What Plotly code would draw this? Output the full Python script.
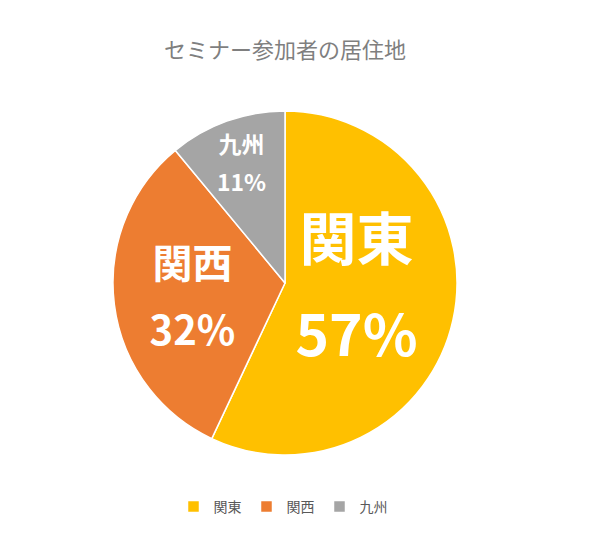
import plotly.graph_objects as go

# seminar attendees by region
regions = ['関東', '関西', '九州']
shares = [57, 32, 11]
slice_colours = ['#FFC000', '#ED7D31', '#A5A5A5']
label_sizes = [57, 40, 24]

FONT = 'Noto Sans CJK JP'
W, H = 609, 552
OFF = 8  # page body margin shifts the figure


def px_x(x):
    return (x - OFF) / W


def px_y(y):
    return 1 - (y - OFF) / H


# base font sets the line spacing, the span sets the glyph size,
# so label and percent sit further apart than a plain <br> would give
templates = ['<span style="font-size:' + str(s) + 'px"><b>%{label}</b></span><br>'
             '<span style="font-size:' + str(s) + 'px"><b>%{percent}</b></span>'
             for s in label_sizes]
spacing_sizes = [round(s * 1.3) for s in label_sizes]

fig = go.Figure(
    go.Pie(
        labels=regions,
        values=shares,
        sort=False,
        direction='clockwise',
        rotation=0,
        marker={'colors': slice_colours, 'line': {'color': 'white', 'width': 1.5}},
        texttemplate=templates,
        textposition='inside',
        insidetextorientation='horizontal',
        textfont={'family': FONT, 'color': 'white', 'size': spacing_sizes},
        hoverinfo='label+percent',
        domain={'x': [px_x(113), px_x(457)], 'y': [px_y(455), px_y(111)]},
    )
)

fig.update_layout(
    width=W,
    height=H,
    margin={'l': 0, 'r': 0, 't': 0, 'b': 0},
    paper_bgcolor='white',
    font={'family': FONT},
    title={
        'text': 'セミナー参加者の居住地',
        'x': px_x(285),
        'xanchor': 'center',
        'y': px_y(50),
        'yanchor': 'middle',
        'font': {'size': 22, 'color': '#7F7F7F', 'family': FONT},
    },
    showlegend=True,
    legend={
        'orientation': 'h',
        'x': px_x(283),
        'xanchor': 'center',
        'y': px_y(507),
        'yanchor': 'middle',
        'font': {'size': 14, 'color': '#595959', 'family': FONT},
    },
)

fig.write_html('out.html')
